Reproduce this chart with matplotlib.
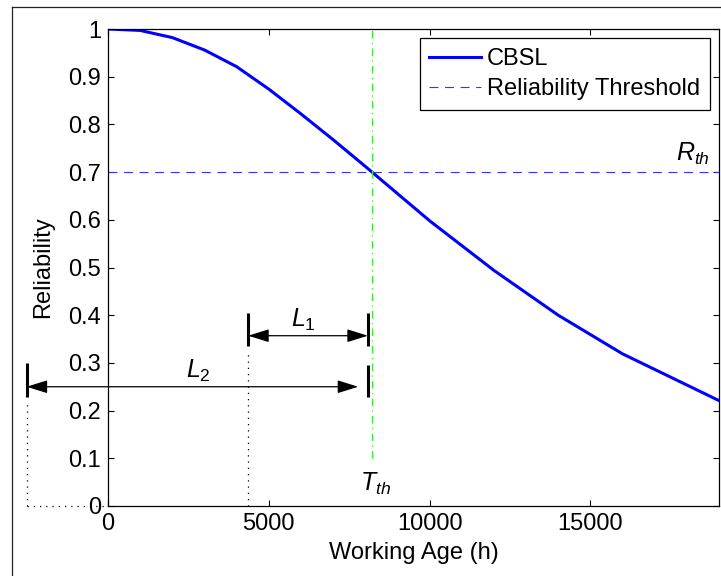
import matplotlib
matplotlib.use('Agg')
import matplotlib.pyplot as plt
from matplotlib.lines import Line2D

plt.rcParams['font.family'] = ['Liberation Sans', 'DejaVu Sans']
plt.rcParams['mathtext.fontset'] = 'custom'
plt.rcParams['mathtext.it'] = 'Liberation Sans:italic'
plt.rcParams['mathtext.rm'] = 'Liberation Sans'

# CBSL reliability curve
age = [0, 1000, 2000, 3000, 4000, 5000, 6000, 7000, 8000, 9000, 10000, 12000, 14000, 16000, 19000]
rel = [1.0, 0.997, 0.982, 0.956, 0.921, 0.874, 0.822, 0.768, 0.712, 0.655, 0.598, 0.494, 0.400, 0.319, 0.221]

r_th = 0.7
t_th = 8200
l1_start = 4360
l2_start = -2530
l_end = 8080

xticks = [0, 5000, 10000, 15000]
yticks = [0, 0.1, 0.2, 0.3, 0.4, 0.5, 0.6, 0.7, 0.8, 0.9, 1]
ytick_labels = ['0', '0.1', '0.2', '0.3', '0.4', '0.5', '0.6', '0.7', '0.8', '0.9', '1']

fs = 17
fig = plt.figure(figsize=(7.21, 5.76), dpi=100)
ax = fig.add_axes([108 / 721, 1 - 506 / 576, 611 / 721, 477 / 576])

ax.plot(age, rel, color='blue', lw=2.2, label='CBSL')
ax.axhline(r_th, color='#3333ff', lw=0.8, ls=(0, (8, 6)), label='Reliability Threshold')
ax.plot([t_th, t_th], [0.1, 1], color='#33ee33', lw=0.9, ls=(0, (6, 3.5, 1, 3.5)))

# interval bars and arrows (partly outside the axes)
bar_kw = dict(color='k', lw=2.2, clip_on=False, solid_capstyle='butt')
ax.plot([l1_start, l1_start], [0.335, 0.405], **bar_kw)
ax.plot([l_end, l_end], [0.335, 0.405], **bar_kw)
ax.plot([l2_start, l2_start], [0.228, 0.300], **bar_kw)
ax.plot([l_end, l_end], [0.228, 0.296], **bar_kw)

dot_kw = dict(color='k', lw=0.9, ls=(0, (1, 4)), clip_on=False)
ax.plot([l1_start, l1_start], [0, 0.327], **dot_kw)
ax.plot([l2_start, l2_start], [0, 0.222], **dot_kw)
ax.plot([l2_start, 0], [0, 0], **dot_kw)

arrow = dict(arrowstyle='<|-|>,head_length=0.8,head_width=0.25', color='k', lw=0.9,
             shrinkA=0, shrinkB=0, mutation_scale=16)
ax.annotate('', xy=(l_end, 0.357), xytext=(l1_start, 0.357), arrowprops=arrow, annotation_clip=False)
ax.annotate('', xy=(7780, 0.25), xytext=(l2_start, 0.25), arrowprops=arrow, annotation_clip=False)

ax.text(6070, 0.362, '$L_1$', fontsize=18, ha='center', va='bottom')
ax.text(2800, 0.256, '$L_2$', fontsize=18, ha='center', va='bottom')
ax.text(8310, 0.018, '$T_{th}$', fontsize=18, ha='center', va='bottom')
ax.text(18200, 0.71, '$R_{th}$', fontsize=18, ha='center', va='bottom')

ax.set_xlim(0, 19000)
ax.set_ylim(0, 1)
ax.set_xticks(xticks)
ax.set_xticklabels([str(t) for t in xticks])
ax.set_yticks(yticks)
ax.set_yticklabels(ytick_labels)
ax.tick_params(direction='in', top=True, right=True, length=4.5, width=0.8,
               labelsize=fs, pad=5)
for s in ax.spines.values():
    s.set_linewidth(0.9)

ax.set_xlabel('Working Age (h)', fontsize=fs, labelpad=5)
ax.set_ylabel('Reliability', fontsize=fs, labelpad=10)

leg = ax.legend(loc='upper right', fontsize=fs, fancybox=False, edgecolor='k',
                framealpha=1, borderaxespad=0.4, handlelength=2.2, labelspacing=0.35,
                borderpad=0.4, handletextpad=0.25)
leg.get_frame().set_linewidth(0.9)

# outer figure frame (cropped at right and bottom)
fig.add_artist(Line2D([12 / 721, 1], [1 - 7 / 576, 1 - 7 / 576], color='#222222', lw=0.9))
fig.add_artist(Line2D([12 / 721, 12 / 721], [0, 1 - 7 / 576], color='#222222', lw=0.9))

fig.savefig('out.png', dpi=100)
